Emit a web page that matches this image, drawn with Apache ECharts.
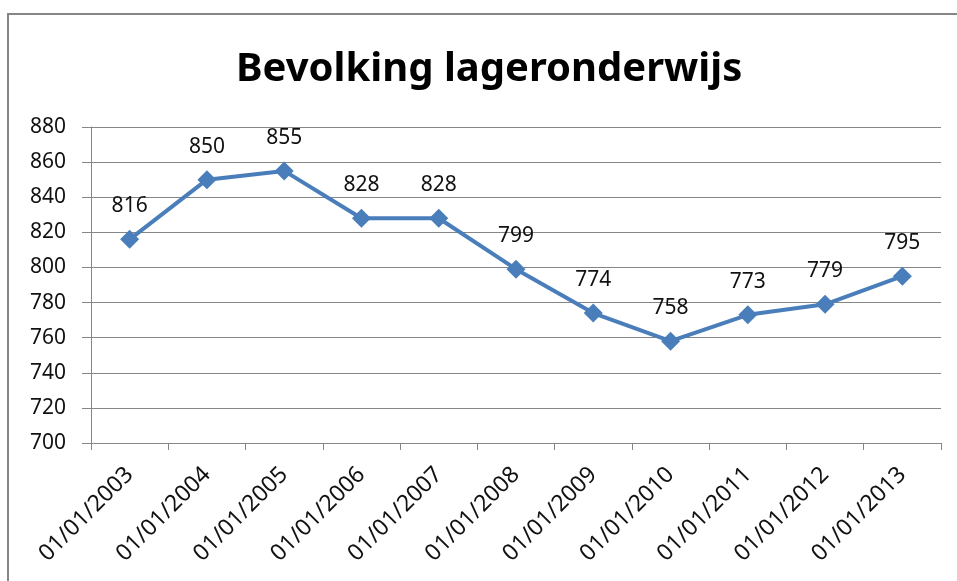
<!DOCTYPE html>
<html>
<head>
<meta charset="utf-8">
<script src="https://cdn.jsdelivr.net/npm/echarts@6/dist/echarts.min.js"></script>
<style>
  html, body { margin: 0; padding: 0; background: #fff; }
  #main { width: 957px; height: 581px; }
</style>
</head>
<body>
<div id="main"></div>
<script>
var titleText = 'Bevolking lageronderwijs';
var categories = ['01/01/2003', '01/01/2004', '01/01/2005', '01/01/2006', '01/01/2007', '01/01/2008',
  '01/01/2009', '01/01/2010', '01/01/2011', '01/01/2012', '01/01/2013'];
var values = [816, 850, 855, 828, 828, 799, 774, 758, 773, 779, 795];
var yMin = 700;
var yMax = 880;
var yStep = 20;

var font = 'Noto Sans';
var chart = echarts.init(document.getElementById('main'));
chart.setOption({
  animation: false,
  title: {
    text: titleText,
    left: 231,
    top: 45,
    textStyle: { fontFamily: font, fontSize: 40, fontWeight: 'bold', color: '#000' }
  },
  graphic: [{
    type: 'rect',
    shape: { x: 8, y: 14, width: 1200, height: 1200 },
    style: { fill: 'none', stroke: '#868686', lineWidth: 2 }
  }],
  grid: { left: 91, right: 16, top: 127, bottom: 138 },
  xAxis: {
    type: 'category',
    data: categories,
    boundaryGap: true,
    axisLine: { lineStyle: { color: '#868686', width: 1 } },
    axisTick: { show: true, length: 7, lineStyle: { color: '#868686' } },
    axisLabel: { rotate: 45, fontFamily: font, fontSize: 23, color: '#111', margin: 28, interval: 0 }
  },
  yAxis: {
    type: 'value',
    min: yMin,
    max: yMax,
    interval: yStep,
    axisLine: { show: true, lineStyle: { color: '#868686', width: 1 } },
    axisTick: { show: true, length: 9, lineStyle: { color: '#868686' } },
    splitLine: { lineStyle: { color: '#868686', width: 1 } },
    axisLabel: { fontFamily: font, fontSize: 21, color: '#111', margin: 25 }
  },
  series: [{
    type: 'line',
    data: values,
    symbol: 'diamond',
    symbolSize: 19,
    lineStyle: { color: '#4A7EBB', width: 4 },
    itemStyle: { color: '#4A7EBB' },
    label: {
      show: true,
      position: 'top',
      distance: 13,
      fontFamily: font,
      fontSize: 21,
      color: '#111'
    }
  }]
});
</script>
</body>
</html>
